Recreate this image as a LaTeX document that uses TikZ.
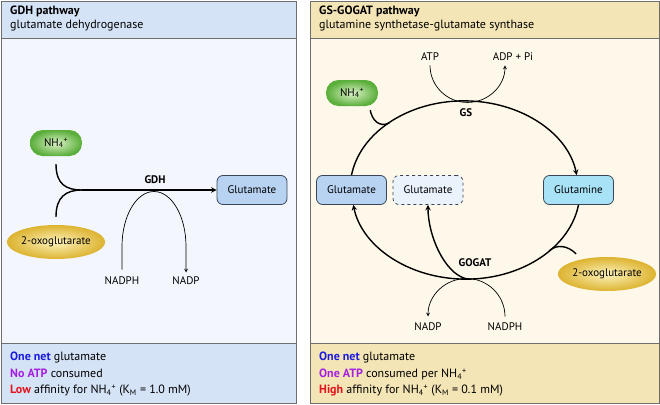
\documentclass[tikz,border=0pt]{standalone}
\usepackage{fontspec}
\setmainfont{PT Sans}
\usetikzlibrary{shapes.geometric}
\definecolor{myedge}{HTML}{6E6E6E}
\definecolor{gdhhead}{HTML}{D5E3F7}
\definecolor{gdhbody}{HTML}{F3F7FD}
\definecolor{gshead}{HTML}{F4E5B6}
\definecolor{gsbody}{HTML}{FDF8EA}
\definecolor{nhlight}{HTML}{DDF3C8}
\definecolor{nhdark}{HTML}{5AAE3A}
\definecolor{oxolight}{HTML}{FCF3BC}
\definecolor{oxodark}{HTML}{DDB330}
\definecolor{glufill}{HTML}{B8D2F2}
\definecolor{glnfill}{HTML}{A8E2F6}
\definecolor{dashfill}{HTML}{EAF2FC}
\definecolor{boxedge}{HTML}{3A4658}
\definecolor{myblue}{HTML}{1B1BE0}
\definecolor{mypurple}{HTML}{A51FE0}
\definecolor{myred}{HTML}{E3141B}

\tikzset{
	panel/.style={draw=myedge, line width=0.8pt},
	txt/.style={anchor=west, inner sep=0pt, align=left, font=\fontsize{12}{16.5}\selectfont},
	mainline/.style={line width=1.4pt},
	sideline/.style={line width=0.7pt},
	nhpill/.style={rounded corners=12.5pt, minimum width=52pt, minimum height=26pt, shading=radial, inner color=nhlight, outer color=nhdark},
	oxo/.style={ellipse, minimum width=93pt, minimum height=34pt, inner sep=0pt, shading=radial, inner color=oxolight, outer color=oxodark},
	metbox/.style={draw=boxedge, line width=0.8pt, rounded corners=6pt, minimum width=70pt, minimum height=29pt}
}

\begin{document}
\begin{tikzpicture}[x=1pt, y=1pt, font=\fontsize{11}{13}\selectfont]
	\useasboundingbox (0,0) rectangle (660,-404);
	
	% GDH panel
	\fill[gdhbody] (1,-1) rectangle (296,-403);
	\fill[gdhhead] (1,-1) rectangle (296,-38);
	\fill[gdhhead] (1,-343) rectangle (296,-403);
	\draw[panel] (1,-38) -- (296,-38);
	\draw[panel] (1,-343) -- (296,-343);
	\draw[panel] (1,-1) rectangle (296,-403);
	
	\node[txt, font=\fontsize{12}{13.5}\selectfont] (gdhtitle) at (10,-18.5) {\textbf{GDH pathway}\\glutamate dehydrogenase};
	
	\node[nhpill] (nh1) at (56,-143) {NH\textsubscript{4}\textsuperscript{+}};
	\node[oxo] (oxo1) at (56,-242) {2-oxoglutarate};
	\node[metbox, fill=glufill] (glu1) at (252,-190) {Glutamate};
	\coordinate (gdhjoin) at (82,-190);
	\node[font=\fontsize{11}{13}\selectfont\bfseries] (gdh) at (155,-180) {GDH};
	
	\draw[mainline] ([yshift=-8pt]nh1.south) .. controls +(0,-20) and +(-16,0) .. (gdhjoin);
	\draw[mainline] ([yshift=8pt]oxo1.north) .. controls +(0,20) and +(-16,0) .. (gdhjoin);
	\draw[mainline, -stealth] (gdhjoin) -- (glu1.west);
	
	\node (nadph1) at (122,-281) {NADPH};
	\node (nadp1) at (186,-281) {NADP};
	\draw[sideline, -stealth] ([yshift=4pt]nadph1.north) -- ++(0,23) arc[start angle=180, end angle=0, x radius=32pt, y radius=55pt] -- ([yshift=1pt]nadp1.north);
	
	\node[txt] (gdhfoot) at (10,-374.5) {\textcolor{myblue}{\textbf{One net}} glutamate\\\textcolor{mypurple}{\textbf{No ATP}} consumed\\\textcolor{myred}{\textbf{Low}} affinity for NH\textsubscript{4}\textsuperscript{+} (K\textsubscript{M} = 1.0 mM)};
	
	% GS-GOGAT panel
	\fill[gsbody] (310,-1) rectangle (659,-403);
	\fill[gshead] (310,-1) rectangle (659,-38);
	\fill[gshead] (310,-343) rectangle (659,-403);
	\draw[panel] (310,-38) -- (659,-38);
	\draw[panel] (310,-343) -- (659,-343);
	\draw[panel] (310,-1) rectangle (659,-403);
	
	\node[txt, font=\fontsize{12}{13.5}\selectfont] (gstitle) at (319,-18.5) {\textbf{GS-GOGAT pathway}\\glutamine synthetase-glutamate synthase};
	
	\node[metbox, fill=glufill] (glu2) at (351.5,-190) {Glutamate};
	\node[metbox, fill=dashfill, dashed] (glu3) at (428,-190) {Glutamate};
	\node[metbox, fill=glnfill] (gln) at (578.5,-190) {Glutamine};
	\node[nhpill] (nh2) at (352,-93) {NH\textsubscript{4}\textsuperscript{+}};
	\node[oxo] (oxo2) at (607,-274) {2-oxoglutarate};
	\node (atp) at (430,-57) {ATP};
	\node (adp) at (513,-57) {ADP + Pi};
	\node (nadp2) at (428,-327) {NADP};
	\node (nadph2) at (505,-327) {NADPH};
	\node[font=\fontsize{11}{13}\selectfont\bfseries] (gs) at (466,-113) {GS};
	\node[font=\fontsize{11}{13}\selectfont\bfseries] (gogat) at (475,-263) {GOGAT};
	
	\coordinate (topc) at (464.1,-189.3);
	\coordinate (botc) at (465.9,-190.7);
	\coordinate (nhjoin) at ([shift={(131:114pt and 88pt)}]topc);
	\coordinate (oxojoin) at ([shift={(-43:114pt and 88pt)}]botc);
	\coordinate (gogatpt) at ([shift={(-90:114pt and 88pt)}]botc);
	
	\draw[mainline, -stealth] (glu2.north) arc[start angle=171, end angle=9, x radius=114pt, y radius=88pt];
	\draw[mainline, -stealth] (gln.south) arc[start angle=-9, end angle=-171, x radius=114pt, y radius=88pt];
	\draw[mainline] ([shift={(-8pt,-4pt)}]nh2.south east) .. controls +(2,-10) and +(-10,-5) .. (nhjoin);
	\draw[mainline] ([shift={(4pt,8pt)}]oxo2.north west) .. controls +(-8,8) and +(8,7) .. (oxojoin);
	\draw[mainline, -stealth] (gogatpt) .. controls +(-22,6) and +(0,-30) .. (glu3.south);
	
	\draw[sideline, -stealth] ([yshift=-1pt]atp.south) arc[start angle=180, end angle=360, x radius=37.5pt, y radius=37pt];
	\draw[sideline, -stealth] ([yshift=3pt]nadph2.north) arc[start angle=0, end angle=180, x radius=38.5pt, y radius=38pt];
	
	\node[txt] (gsfoot) at (319,-374.5) {\textcolor{myblue}{\textbf{One net}} glutamate\\\textcolor{mypurple}{\textbf{One ATP}} consumed per NH\textsubscript{4}\textsuperscript{+}\\\textcolor{myred}{\textbf{High}} affinity for NH\textsubscript{4}\textsuperscript{+} (K\textsubscript{M} = 0.1 mM)};
\end{tikzpicture}
\end{document}
